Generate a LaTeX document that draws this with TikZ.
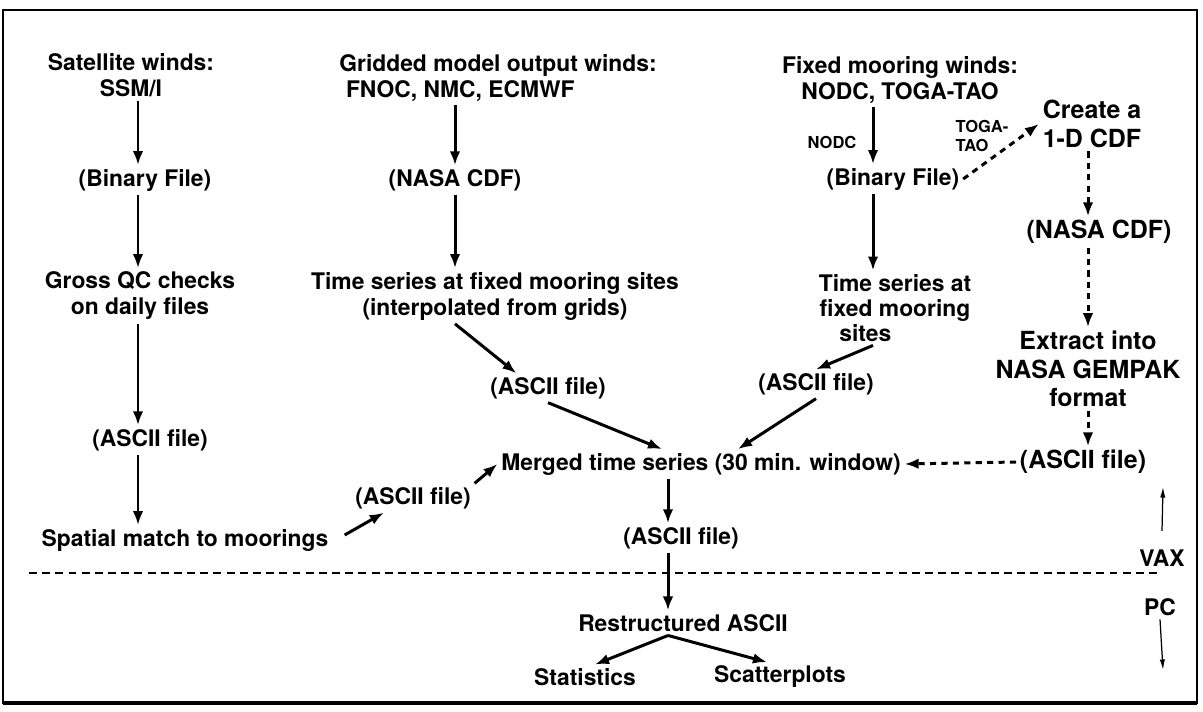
\documentclass[tikz,border=0pt]{standalone}
\usepackage{fontspec}
\setmainfont{TeX Gyre Heros}
\usepackage{tikz}
\usetikzlibrary{arrows.meta, positioning}
\tikzset{%
	box/.style={
		font=\fontsize{13}{14.8}\selectfont\bfseries,
		align=center,
		inner sep=2pt
	},
	bigbox/.style={
		font=\fontsize{14.2}{16.2}\selectfont\bfseries,
		align=center,
		inner sep=2pt
	},
	tag/.style={
		font=\fontsize{9.4}{10.6}\selectfont\bfseries,
		inner sep=1pt
	},
	flow/.style={-{Latex[length=8pt,width=6pt]}, line width=1.7pt},
	dflow/.style={flow, dash pattern=on 3.5pt off 3pt},
	thinflow/.style={-{Latex[length=6pt,width=3pt]}, line width=0.7pt},
	divider/.style={line width=0.6pt, dash pattern=on 4.5pt off 3pt},
}

\begin{document}
\begin{tikzpicture}[x=0.02cm, y=-0.02cm]

	\useasboundingbox (0,0) rectangle (1203,712);
	\draw[line width=1.3pt] (3,10) rectangle (1197,703);
	\draw[line width=2.2pt] (3,703) -- (1197,703);

	\coordinate (c1) at (138,0);
	\coordinate (c2) at (455,0);
	\coordinate (c3) at (873,0);
	\coordinate (c4) at (1088,0);
	\coordinate (c5) at (668,0);

	\node[box] (sat) at (131,75) {Satellite winds:\\SSM/I};
	\node[box] (bin1) at (145,180) {(Binary File)};
	\node[box] (qc) at (140,296) {Gross QC checks\\on daily files};
	\node[box] (asc1) at (150,440) {(ASCII file)};
	\node[box] (spatial) at (185,540) {Spatial match to moorings};
	\node[box] (ascL) at (413,498) {(ASCII file)};

	\draw[flow] (sat.south -| c1) -- (bin1.north -| c1);
	\draw[flow] (bin1.south -| c1) -- (qc.north -| c1);
	\draw[flow] (qc.south -| c1) -- (asc1.north -| c1);
	\draw[flow] (asc1.south -| c1) -- (spatial.north -| c1);
	\draw[flow] ([xshift=0.25cm,yshift=0.1cm]spatial.east) -- ([xshift=0.65cm]ascL.south west);

	\node[box] (grid) at (498,78) {Gridded model output winds:\\FNOC, NMC, ECMWF\hspace*{3.3em}};
	\node[box] (nasa2) at (455,180) {(NASA CDF)};
	\node[box] (ts2) at (495,296) {Time series at fixed mooring sites\\(interpolated from grids)};
	\node[box] (asc2) at (548,388) {(ASCII file)};

	\draw[flow] (grid.south -| c2) -- (nasa2.north -| c2);
	\draw[flow] (nasa2.south -| c2) -- (ts2.north -| c2);
	\draw[flow] (ts2.south -| c2) -- ([xshift=0.6cm]asc2.north west);

	\node[box] (fix) at (900,80) {Fixed mooring winds:\\NODC, TOGA-TAO};
	\node[box] (bin3) at (893,179) {(Binary File)};
	\node[tag] (nodc) at (832,142) {NODC};
	\node[tag, align=left] (toga) at (982,136) {TOGA-\\TAO};
	\node[box, font=\fontsize{13}{14.2}\selectfont\bfseries] (ts3) at (895,308) {Time series at\\fixed mooring\\sites\hspace*{2.6em}};
	\node[box] (asc3) at (816,384) {(ASCII file)};

	\draw[flow] (fix.south -| c3) -- (bin3.north -| c3);
	\draw[flow] (bin3.south -| c3) -- (ts3.north -| c3);
	\draw[flow] (ts3.south -| c3) -- (asc3.north);

	\node[bigbox] (cdf) at (1092,124) {Create a\\1-D CDF};
	\node[bigbox] (nasa3) at (1099,232) {(NASA CDF)};
	\node[bigbox] (ext) at (1088,369) {Extract into\\NASA GEMPAK\\format};
	\node[bigbox] (asc4) at (1083,462) {(ASCII file)};

	\draw[dflow] (bin3.east) -- (cdf.west);
	\draw[dflow] (cdf.south -| c4) -- (nasa3.north -| c4);
	\draw[dflow] (nasa3.south -| c4) -- (ext.north -| c4);
	\draw[dflow] (ext.south -| c4) -- (asc4.north -| c4);

	\node[box] (merged) at (701,464) {Merged time series (30 min. window)};
	\node[box] (asc5) at (681,538) {(ASCII file)};
	\node[box] (rest) at (683,623) {Restructured ASCII};
	\node[box] (stat) at (585,677) {Statistics};
	\node[box] (scat) at (780,677) {Scatterplots};

	\draw[flow] (ascL.north east) -- (merged.west);
	\draw[flow] (asc2.south) -- ([xshift=-0.78cm]merged.north);
	\draw[flow] (asc3.south) -- ([xshift=0.74cm]merged.north);
	\draw[dflow] (asc4.west) -- (merged.east);
	\draw[flow] (merged.south -| c5) -- (asc5.north -| c5);
	\draw[flow] (asc5.south -| c5) -- (rest.north -| c5);
	\draw[flow] (rest.south -| c5) -- ([xshift=0.2cm]stat.north);
	\draw[flow] (rest.south -| c5) -- ([xshift=-0.26cm]scat.north);

	\draw[divider] (29,573) -- (1158,573);

	\node[box] (vax) at (1162,558) {VAX};
	\node[box] (pc) at (1160,607) {PC};
	\coordinate (vaxtip) at (1163,487);
	\coordinate (pctip) at (1163,670);
	\draw[thinflow] ([yshift=0.3cm]vax.north) -- (vaxtip);
	\draw[thinflow] (pc.south) -- (pctip);

\end{tikzpicture}
\end{document}
